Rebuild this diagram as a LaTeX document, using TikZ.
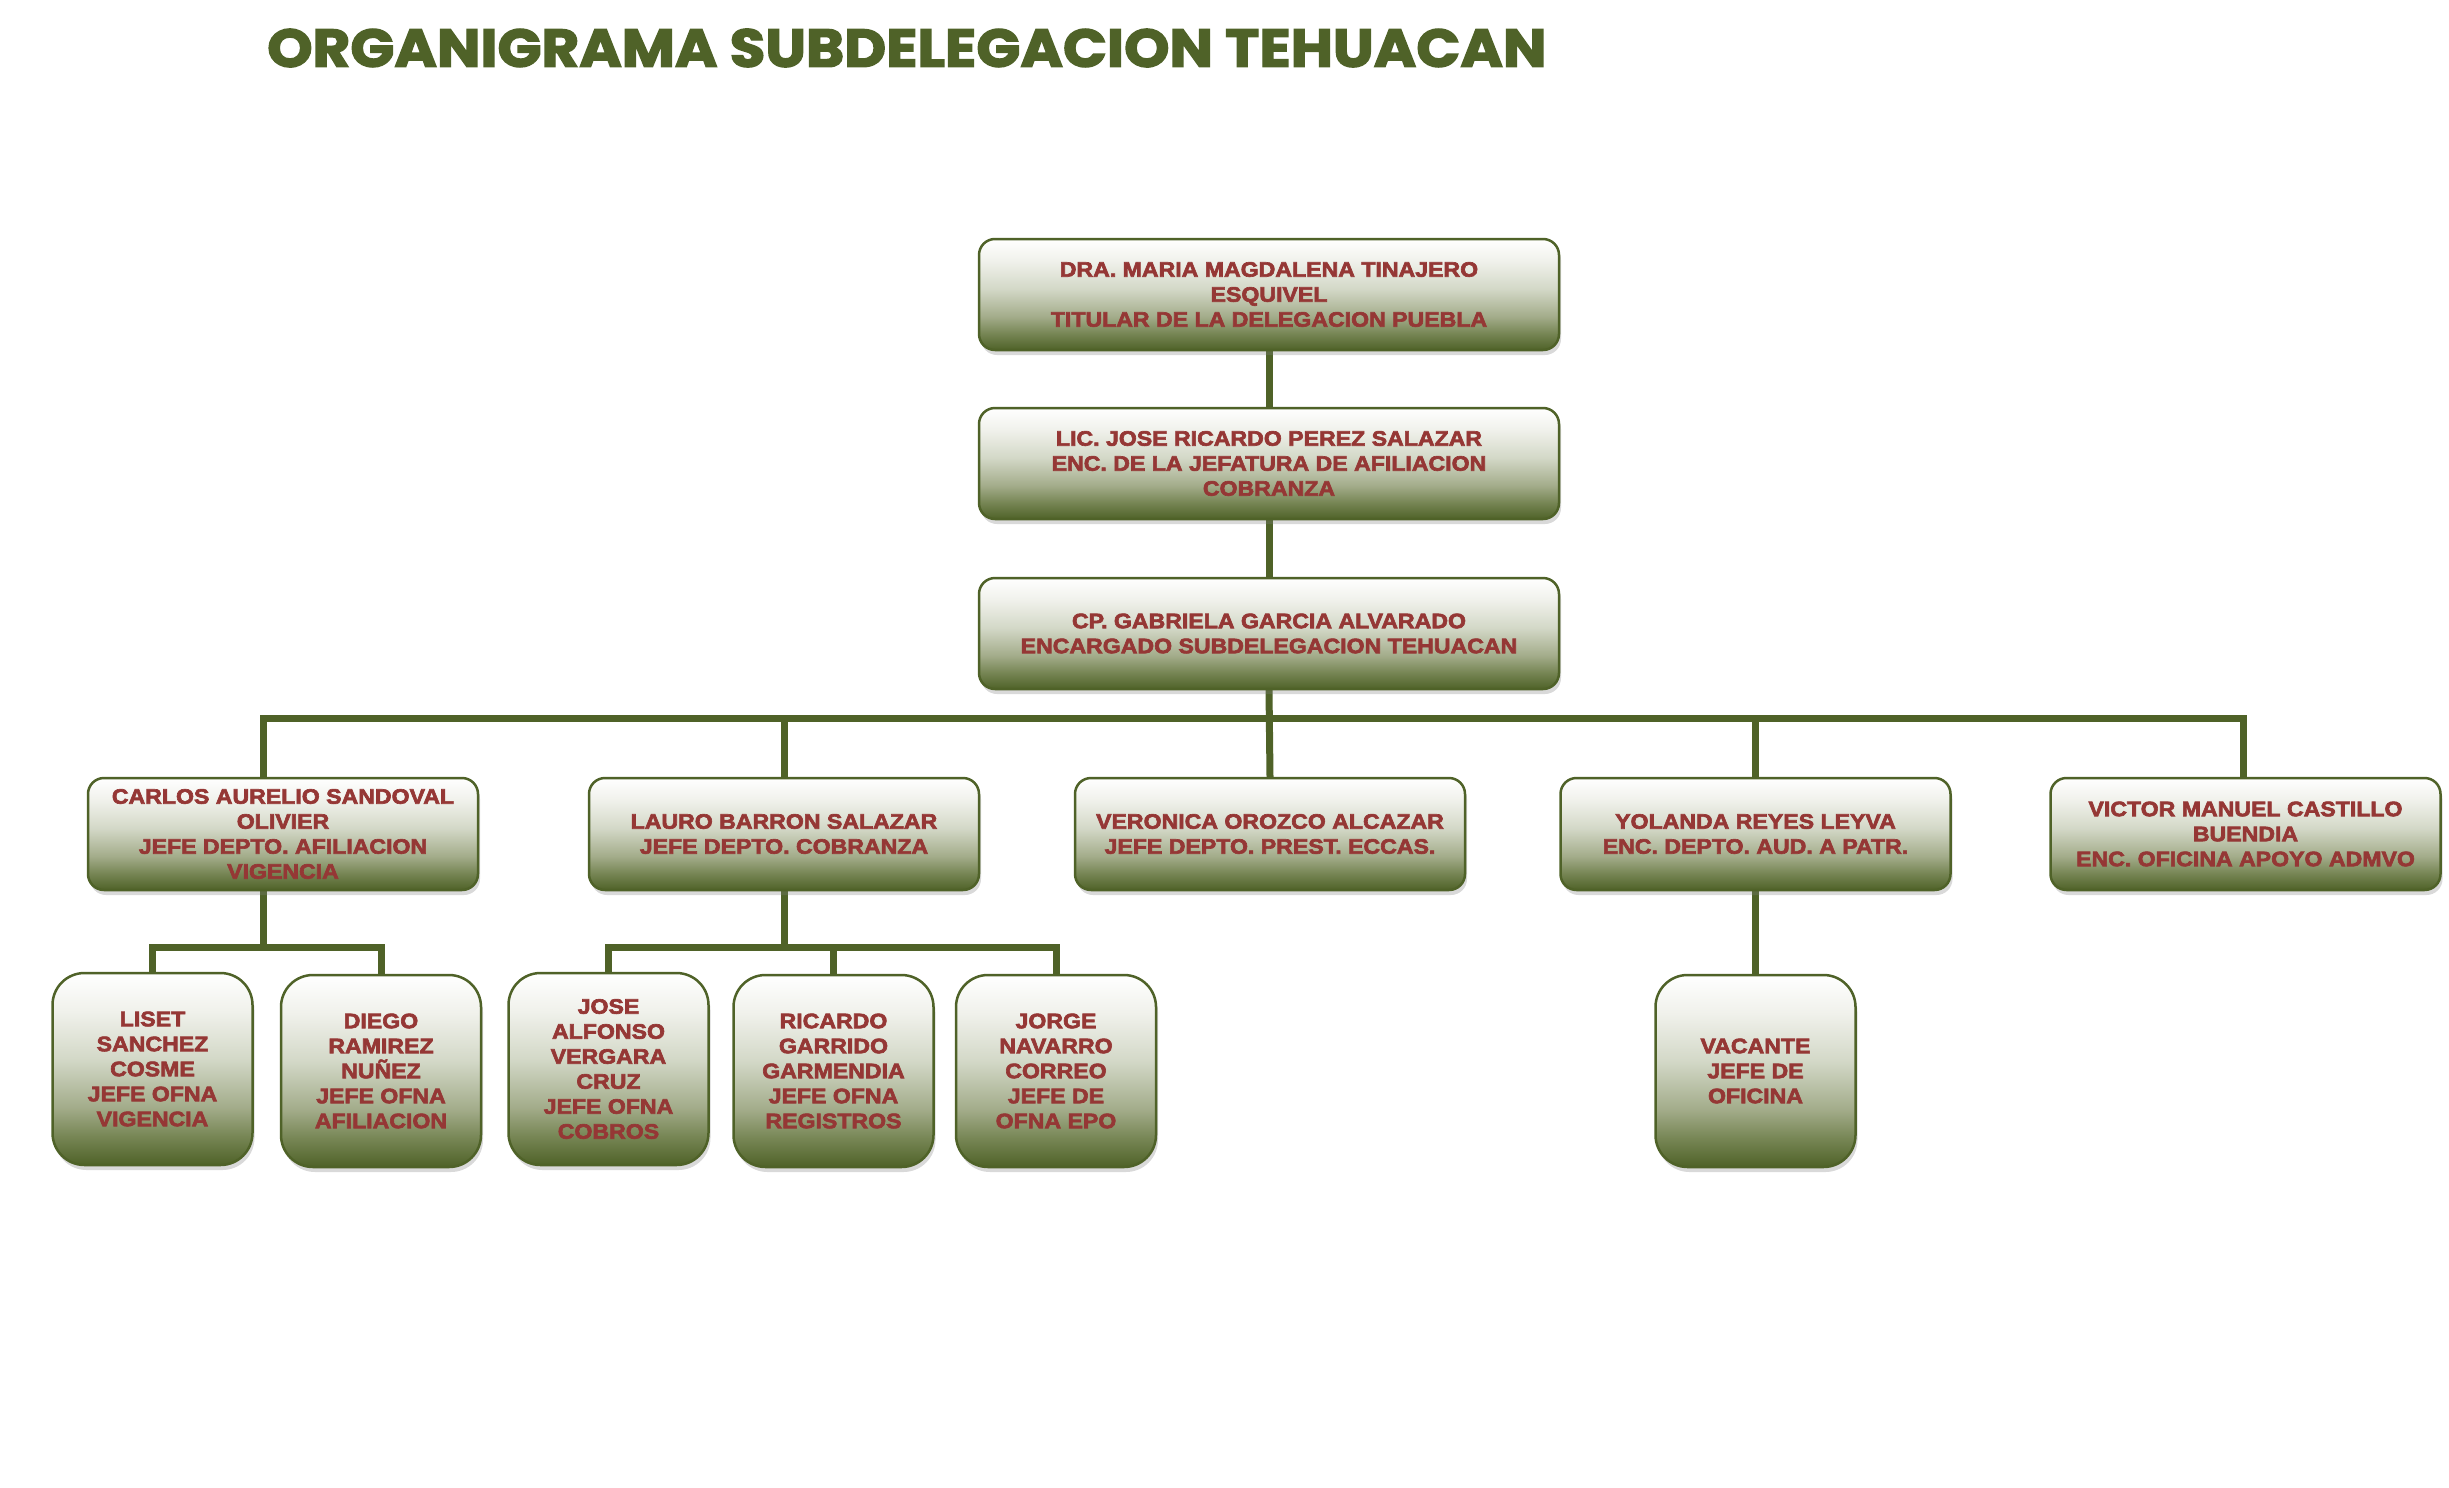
\documentclass[tikz,border=0pt]{standalone}
\usepackage{fontspec}
\usepackage{graphicx}
\setmainfont{Liberation Sans}
\newfontfamily\boxfont[FakeStretch=1.10,FakeBold=3]{Liberation Sans}
\newfontfamily\titlefont[FakeBold=2.5]{Poppins}
\usetikzlibrary{shadows,backgrounds}
\definecolor{olive}{HTML}{4F6228}
\definecolor{txtred}{HTML}{953735}
\definecolor{shA}{HTML}{FFFFFF}
\definecolor{shB}{HTML}{F0F1EB}
\definecolor{shC}{HTML}{D3D8C7}
\definecolor{shD}{HTML}{A3AC8A}
\definecolor{shF}{HTML}{778655}
\definecolor{shE}{HTML}{4F6228}
\pgfdeclareverticalshading{orgshade}{100bp}{color(0bp)=(shE); color(25bp)=(shE); color(32.5bp)=(shF); color(40bp)=(shD); color(52.5bp)=(shC); color(65bp)=(shB); color(75bp)=(shA); color(100bp)=(shA)}
\tikzset{
  orgbox/.style={draw=olive, line width=2.5pt, rounded corners=16pt, shading=orgshade,
    minimum width=390pt, minimum height=112pt, inner sep=0pt, align=center,
    text=txtred, font=\boxfont\bfseries\fontsize{21}{25}\selectfont,
    drop shadow={opacity=0.3, shadow xshift=2pt, shadow yshift=-5pt}},
  topbox/.style={orgbox, minimum width=580pt, minimum height=111pt},
  subbox/.style={orgbox, rounded corners=32pt, minimum width=200pt, minimum height=192pt},
  conn/.style={draw=olive, line width=7pt, line cap=rect}
}
\begin{document}
\begin{tikzpicture}[x=1pt, y=-1pt]
\useasboundingbox (0,0) rectangle (2449,1488);
\node[anchor=west, text=olive, inner sep=0pt] (title) at (267,48)
  {\resizebox{1279pt}{38pt}{\titlefont\bfseries ORGANIGRAMA SUBDELEGACION TEHUACAN}};

\node[topbox] (A) at (1269,294.5) {DRA. MARIA MAGDALENA TINAJERO\\ESQUIVEL\\TITULAR DE LA DELEGACION PUEBLA};
\node[topbox] (B) at (1269,463.5) {LIC. JOSE RICARDO PEREZ SALAZAR\\ENC. DE LA JEFATURA DE AFILIACION\\COBRANZA};
\node[topbox] (C) at (1269,633.5) {CP. GABRIELA GARCIA ALVARADO\\ENCARGADO SUBDELEGACION TEHUACAN};

\node[orgbox] (carlos) at (283,834) {CARLOS AURELIO SANDOVAL\\OLIVIER\\JEFE DEPTO. AFILIACION\\VIGENCIA};
\node[orgbox] (lauro) at (784,834) {LAURO BARRON SALAZAR\\JEFE DEPTO. COBRANZA};
\node[orgbox] (ver) at (1270,834) {VERONICA OROZCO ALCAZAR\\JEFE DEPTO. PREST. ECCAS.};
\node[orgbox] (yol) at (1755.5,834) {YOLANDA REYES LEYVA\\ENC. DEPTO. AUD. A PATR.};
\node[orgbox] (vic) at (2245.5,834) {VICTOR MANUEL CASTILLO\\BUENDIA\\ENC. OFICINA APOYO ADMVO};

\node[subbox] (liset) at (152.5,1069) {LISET\\SANCHEZ\\COSME\\JEFE OFNA\\VIGENCIA};
\node[subbox] (diego) at (381,1071) {DIEGO\\RAMIREZ\\NUÑEZ\\JEFE OFNA\\AFILIACION};
\node[subbox] (jose) at (608.5,1069) {JOSE\\ALFONSO\\VERGARA\\CRUZ\\JEFE OFNA\\COBROS};
\node[subbox] (ric) at (833.5,1071) {RICARDO\\GARRIDO\\GARMENDIA\\JEFE OFNA\\REGISTROS};
\node[subbox] (jorge) at (1056,1071) {JORGE\\NAVARRO\\CORREO\\JEFE DE\\OFNA EPO};
\node[subbox] (vac) at (1755.5,1071) {VACANTE\\JEFE DE\\OFICINA};

\coordinate (busL) at (263,718);
\coordinate (busR) at (2243,718);
\coordinate (cbus) at (263,947);
\coordinate (lbus) at (784,947);

\begin{scope}[on background layer]
\draw[conn] (A.south) -- (B.north);
\draw[conn] (B.south) -- (C.north);
\draw[conn] (C.south) -- (ver.north);
\draw[conn] (busL) -- (busR);
\draw[conn] (busL) -- (busL |- carlos.north);
\draw[conn] (lauro.north |- busL) -- (lauro.north);
\draw[conn] (yol.north |- busL) -- (yol.north);
\draw[conn] (busR) -- (busR |- vic.north);
\draw[conn] (cbus |- carlos.south) -- (cbus);
\draw[conn] (liset.north) |- (cbus);
\draw[conn] (diego.north) |- (cbus);
\draw[conn] (lauro.south) -- (lbus);
\draw[conn] (jose.north) |- (lbus);
\draw[conn] (jorge.north) |- (lbus);
\draw[conn] (ric.north) -- (ric.north |- lbus);
\draw[conn] (yol.south) -- (vac.north);
\end{scope}
\end{tikzpicture}
\end{document}
